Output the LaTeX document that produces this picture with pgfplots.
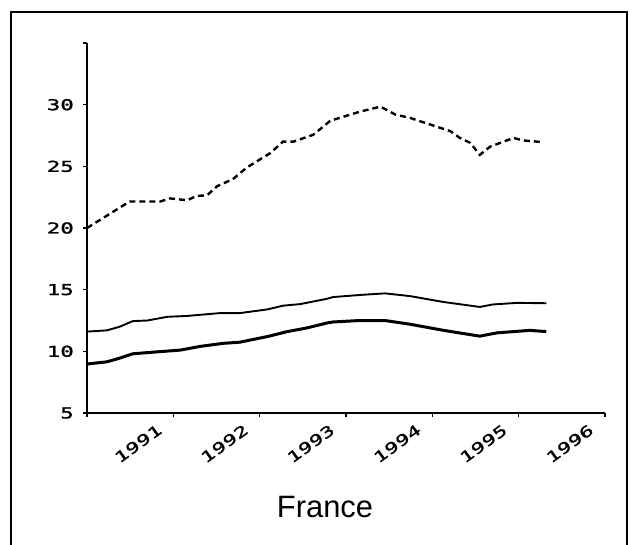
\documentclass[border=0pt]{standalone}
\usepackage{fontspec}
\setmainfont{Liberation Sans}
\newfontfamily\tickfont[FakeStretch=1.5, FakeBold=1.5]{DejaVu Sans Mono}
\usepackage{pgfplots}
\pgfplotsset{compat=1.18}
\begin{document}
\begin{tikzpicture}
\path[use as bounding box] (-87bp,-132bp) rectangle (543bp,413bp);
\draw[line width=2bp] (-76bp,-140bp) -- (-76bp,401bp) -- (540bp,401bp) -- (540bp,-140bp);
\begin{axis}[
  at={(0,0)}, anchor=south west,
  scale only axis, width=518bp, height=370bp,
  xmin=1990, xmax=1996, ymin=5, ymax=35,
  axis x line=bottom, axis y line=left,
  axis line style={line width=1.6bp, -},
  tick align=outside,
  major tick length=4bp,
  tick style={line width=1.4bp, black},
  xtick={1990,1991,1992,1993,1994,1995,1996},
  xticklabels={{},1991,1992,1993,1994,1995,1996},
  ytick={5,10,15,20,25,30,35},
  yticklabels={5,10,15,20,25,30,{}},
  xticklabel style={font=\tickfont\fontsize{15}{15}\selectfont, rotate=36, anchor=north east, inner sep=0pt, xshift=-17bp, yshift=5bp},
  yticklabel style={font=\tickfont\fontsize{15}{15}\selectfont, anchor=east, inner sep=0pt, xshift=-9bp},
  clip=false,
]
\addplot[black, line width=2.4bp, dash pattern=on 6bp off 4bp] coordinates {
(1990.00,20.0) (1990.46,22.0) (1990.50,22.15) (1990.85,22.15) (1990.96,22.4)
(1991.16,22.25) (1991.27,22.6) (1991.39,22.65) (1991.51,23.4) (1991.69,23.96)
(1991.85,24.9) (1992.12,26.06) (1992.27,27.0) (1992.39,27.0) (1992.62,27.56)
(1992.82,28.7) (1993.16,29.43) (1993.40,29.84) (1993.57,29.2) (1993.74,28.93)
(1993.97,28.4) (1994.21,27.85) (1994.32,27.3) (1994.44,26.9) (1994.55,25.93)
(1994.67,26.6) (1994.94,27.3) (1995.05,27.1) (1995.27,26.97)
};
\addplot[black, line width=1.9bp] coordinates {
(1990.00,11.6) (1990.23,11.7) (1990.38,12.0) (1990.53,12.45) (1990.70,12.5)
(1990.93,12.8) (1991.16,12.87) (1991.54,13.1) (1991.77,13.1) (1992.09,13.4)
(1992.27,13.7) (1992.47,13.83) (1992.78,14.26) (1992.85,14.4) (1993.16,14.57)
(1993.45,14.7) (1993.74,14.48) (1994.13,14.0) (1994.55,13.6) (1994.70,13.8)
(1994.98,13.93) (1995.32,13.9)
};
\addplot[black, line width=3bp] coordinates {
(1990.00,8.97) (1990.23,9.15) (1990.38,9.45) (1990.53,9.8) (1990.76,9.93)
(1991.08,10.1) (1991.31,10.4) (1991.58,10.65) (1991.77,10.74) (1992.09,11.2)
(1992.32,11.6) (1992.55,11.9) (1992.78,12.3) (1992.85,12.38) (1993.16,12.5)
(1993.45,12.5) (1993.74,12.2) (1994.13,11.7) (1994.55,11.23) (1994.75,11.5)
(1995.13,11.7) (1995.32,11.6)
};
\end{axis}
\node[font=\fontsize{31}{31}\selectfont, inner sep=0pt] at (238bp,-94bp) {France};
\end{tikzpicture}
\end{document}
